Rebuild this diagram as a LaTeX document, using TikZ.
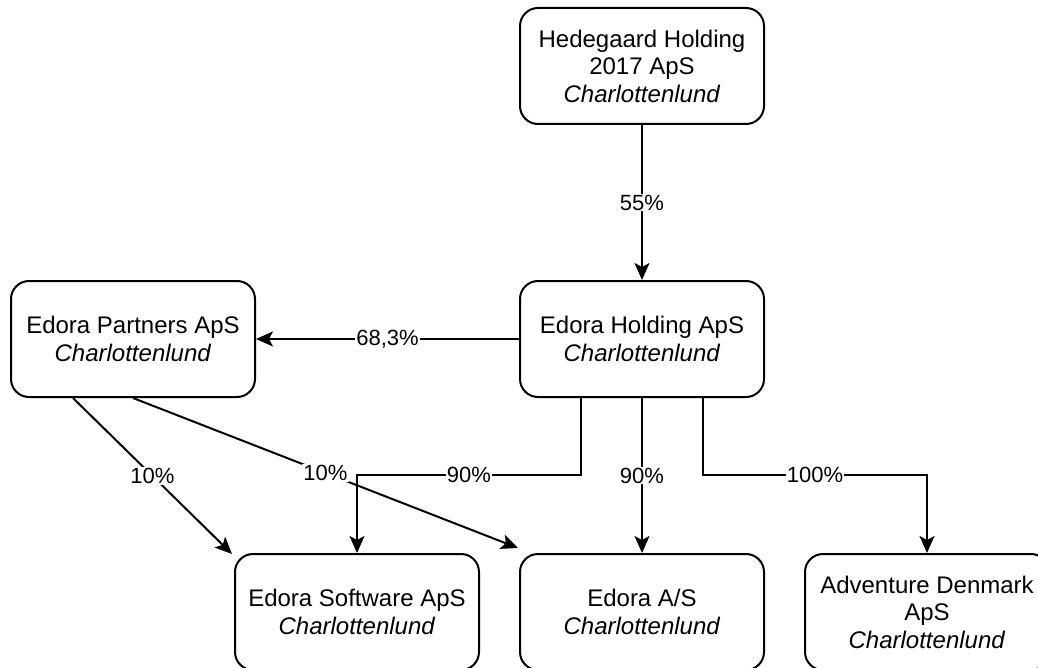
\documentclass[tikz,border=0pt]{standalone}
\usepackage{fontspec}
\setmainfont{Liberation Sans}
\usetikzlibrary{arrows.meta}
\tikzset{
  box/.style={draw, line width=2pt, rounded corners=18pt, minimum width=244pt, minimum height=116pt, align=center, inner sep=0pt, font=\fontsize{24}{27.5}\selectfont},
  arr/.style={line width=2pt, -{Stealth[length=17pt,width=15pt,inset=4pt]}},
  lbl/.style={fill=white, inner sep=1pt, font=\fontsize{22}{24}\selectfont},
}
\begin{document}
\begin{tikzpicture}[x=1pt,y=-1pt]
\useasboundingbox (0,0) rectangle (1038,668);
\clip (0,0) rectangle (1038,668);
\node[box] (hed) at (642,66) {Hedegaard Holding\\2017 ApS\\\textit{Charlottenlund}};
\node[box] (hold) at (642,339) {Edora Holding ApS\\\textit{Charlottenlund}};
\node[box] (part) at (133,339) {Edora Partners ApS\\\textit{Charlottenlund}};
\node[box] (soft) at (357,612) {Edora Software ApS\\\textit{Charlottenlund}};
\node[box] (as) at (642,612) {Edora A/S\\\textit{Charlottenlund}};
\node[box] (adv) at (927,612) {Adventure Denmark\\ApS\\\textit{Charlottenlund}};

\draw[arr] (hed) -- node[lbl]{55\%} (hold);
\draw[arr] (hold) -- node[lbl]{68,3\%} (part);
\draw[arr] ([xshift=-61pt]hold.south) -- ([xshift=-61pt]hold.south |- 0,475) -- node[lbl]{90\%} (soft.north |- 0,475) -- (soft.north);
\draw[arr] (hold.south) -- node[lbl]{90\%} (as.north);
\draw[arr] ([xshift=61pt]hold.south) -- ([xshift=61pt]hold.south |- 0,475) -- node[lbl]{100\%} (adv.north |- 0,475) -- (adv.north);
\draw[arr] ([xshift=-60pt]part.south) -- node[lbl]{10\%} ([xshift=-2pt,yshift=-1pt]soft.north west);
\draw[arr] (part.south) -- node[lbl]{10\%} ([xshift=-1pt,yshift=5pt]as.north west);
\end{tikzpicture}
\end{document}
